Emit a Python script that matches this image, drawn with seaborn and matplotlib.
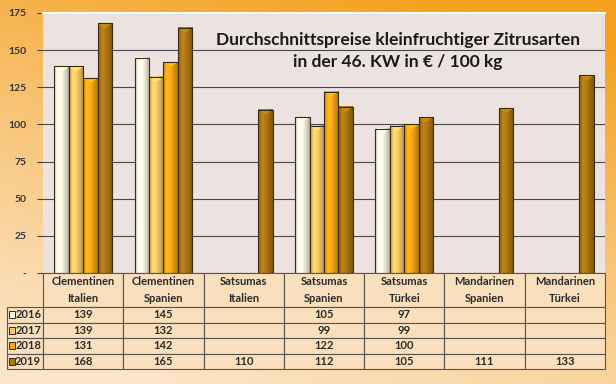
import numpy as np
import pandas as pd
import matplotlib.pyplot as plt
import matplotlib.colors as mcolors
import seaborn as sns
from matplotlib.colors import LinearSegmentedColormap
from matplotlib.patches import Rectangle, Polygon

sns.set_style("white")
plt.rcParams["font.family"] = ["Lato", "DejaVu Sans"]

categories = ["Clementinen\nItalien", "Clementinen\nSpanien", "Satsumas\nItalien",
              "Satsumas\nSpanien", "Satsumas\nTürkei", "Mandarinen\nSpanien", "Mandarinen\nTürkei"]
years = ["2016", "2017", "2018", "2019"]
p2016 = [139, 145, np.nan, 105, 97, np.nan, np.nan]
p2017 = [139, 132, np.nan, 99, 99, np.nan, np.nan]
p2018 = [131, 142, np.nan, 122, 100, np.nan, np.nan]
p2019 = [168, 165, 110, 112, 105, 111, 133]
colors = ["#FBF5E2", "#F4C76A", "#F7A616", "#AE7714"]

df = pd.DataFrame({
    "Sorte": categories * 4,
    "Jahr": [y for y in years for _ in categories],
    "Preis": p2016 + p2017 + p2018 + p2019,
})

fig = plt.figure(figsize=(6.16, 3.84), dpi=100)

# orange gradient background
bg = fig.add_axes([0, 0, 1, 1], zorder=-10)
yy, xx = np.mgrid[0:1:200j, 0:1:300j]
grad = np.clip(yy * 0.85 - xx * 0.35 + 0.25, 0, 1)
cmap = LinearSegmentedColormap.from_list("bg", ["#F4A11E", "#F8C579", "#FCE4C6"])
bg.imshow(grad, cmap=cmap, aspect="auto", extent=[0, 1, 0, 1], origin="upper")
bg.axis("off")

ax = fig.add_axes([43 / 616, 1 - 273 / 384, 562 / 616, 260 / 384])
ax.set_facecolor("#ECE2DF")
sns.barplot(data=df, x="Sorte", y="Preis", hue="Jahr", order=categories, hue_order=years,
            palette=colors, width=0.72, saturation=1, edgecolor="#3A2A12", linewidth=0.8,
            legend=False, ax=ax, zorder=3)
xlim = ax.get_xlim()

# cylinder-like shading + bevelled top on the bars
t = np.linspace(0, 1, 40)
prof = np.interp(t, [0, 0.3, 0.55, 1], [0.82, 1.12, 1.0, 0.72])
for p in ax.patches:
    h = p.get_height()
    if not np.isfinite(h) or h <= 0:
        continue
    base = np.array(mcolors.to_rgb(p.get_facecolor()))
    img = np.clip(base[None, :] * prof[:, None], 0, 1)[None, :, :]
    x0, w = p.get_x(), p.get_width()
    ax.imshow(img, extent=[x0, x0 + w, 0, h], aspect="auto", zorder=2.9,
              interpolation="bilinear", clip_path=p)
    top = np.clip(base * 1.08 + np.array([0.05, 0.05, -0.05]), 0, 1)
    ax.add_patch(Polygon([(x0, h), (x0 + w, h), (x0 + w / 2, h - 3.5)], closed=True,
                         facecolor=top, edgecolor="none", zorder=2.95))
    p.set_facecolor("none")

ax.set_xlim(xlim)
ax.set_ylim(0, 175)
ax.set_yticks(range(0, 176, 25))
ax.set_yticklabels(["-"] + [str(v) for v in range(25, 176, 25)], fontsize=7.5,
                   fontweight="bold", color="#333333")
ax.tick_params(axis="y", left=True, length=4, color="#444444", pad=8)
ax.tick_params(axis="x", bottom=False, labelbottom=False)
ax.set_xlabel("")
ax.set_ylabel("")
ax.yaxis.grid(True, color="#4a4a4a", linewidth=0.8, zorder=0)
ax.set_axisbelow(True)
for s in ["left", "right", "bottom"]:
    ax.spines[s].set_visible(False)
ax.spines["top"].set_color("white")
ax.spines["top"].set_linewidth(1.5)

ax.text(0.632, 0.925, "Durchschnittspreise kleinfruchtiger Zitrusarten\nin der 46. KW in € / 100 kg",
        transform=ax.transAxes, ha="center", va="top", fontsize=12.5, fontweight="bold",
        color="#1a1a1a", linespacing=1.4)

# data table
tax = fig.add_axes([7 / 616, 1 - 369 / 384, 598 / 616, 96 / 384])
tax.axis("off")
header = [[""] + categories]
rows = []
for y, vals in zip(years, [p2016, p2017, p2018, p2019]):
    rows.append([y] + ["" if np.isnan(v) else f"{v:.0f}" for v in vals])
cell_text = header + rows
col_w = [36] + [562 / 7] * 7
tbl = tax.table(cellText=cell_text, colWidths=col_w, cellLoc="center", bbox=[0, 0, 1, 1])
tbl.auto_set_font_size(False)
for (r, c), cell in tbl.get_celld().items():
    cell.set_edgecolor("#555555")
    cell.set_linewidth(0.8)
    cell.set_facecolor("#F9DFBC")
    cell.get_text().set_fontsize(8)
    cell.get_text().set_fontweight("bold")
    cell.get_text().set_color("#2a2a2a")
    cell.get_text().set_linespacing(1.7)
    cell.set_height(2.2 if r == 0 else 1)
    if r == 0 and c == 0:
        cell.set_facecolor("none")
        cell.visible_edges = ""
    if c == 0 and r > 0:
        cell.get_text().set_ha("right")
        cell._loc = "right"
        cell.PAD = 0.05

# legend squares in row labels
total_h = 2.2 + 4
for i, col in enumerate(colors):
    yc = 1 - (2.2 + i + 0.5) / total_h
    tax.add_patch(Rectangle((0.003, yc - 0.035), 0.011, 0.07, transform=tax.transAxes,
                            facecolor=col, edgecolor="#3A2A12", linewidth=0.7, zorder=5))

fig.savefig("out.png", dpi=100)
